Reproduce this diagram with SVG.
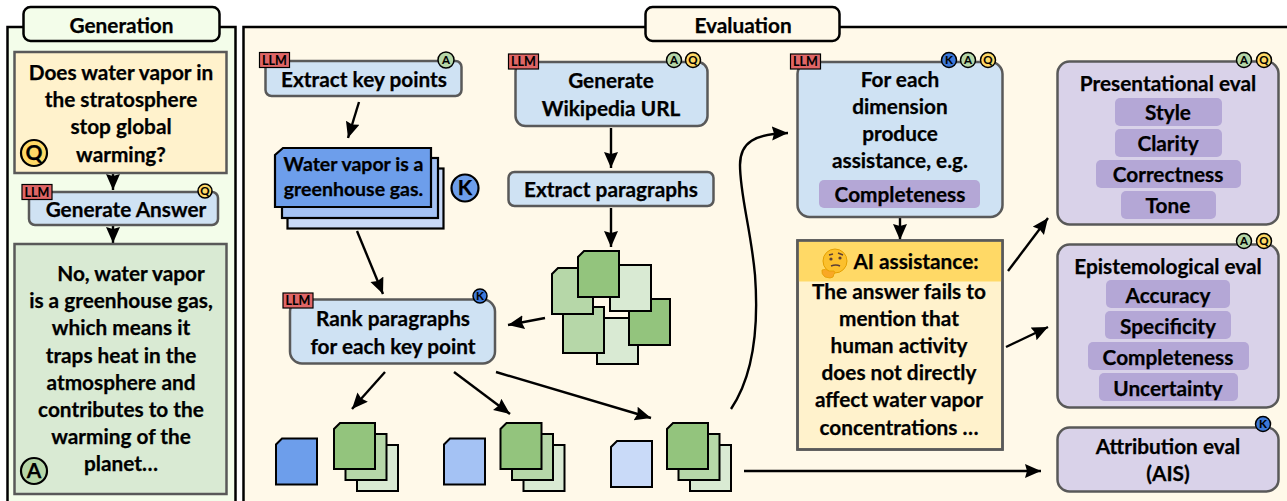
<svg xmlns="http://www.w3.org/2000/svg" width="1287" height="501" viewBox="0 0 1287 501">
<style>
text{font-family:Lato,"Liberation Sans",sans-serif;font-weight:700;font-size:20.8px;fill:#000;stroke:#000;stroke-width:.25;text-anchor:middle}
.panel{stroke:#000;stroke-width:2.5}
.gen{fill:#f3fdea}.ev{fill:#fff9e9}
.blue{fill:#cfe2f3;stroke:#595959;stroke-width:2.5}
.purple{fill:#d9d2e9;stroke:#595959;stroke-width:2.5}
.pill{fill:#b4a7d6}
.yellow{fill:#fff2cc;stroke:#595959;stroke-width:2.5}
.greenbox{fill:#d9ead3;stroke:#595959;stroke-width:2.5}
.tag{fill:#e06666;stroke:#000;stroke-width:1.2}
text.tagt{font-size:12.5px;stroke-width:.1}
.b{stroke:#000;stroke-width:1.5}
.bk{stroke:#000;stroke-width:2.2}
text.mini{font-size:11.5px;stroke-width:.1}
.cq{fill:#ffd966}.ca{fill:#b6d7a8}.ck{fill:#3c78d8}
.d{stroke:#000;stroke-width:2}
.g1{fill:#93c47d}.g2{fill:#b6d7a8}.g3{fill:#d9ead3}
.conn{fill:none;stroke:#000;stroke-width:2.4;marker-end:url(#ah)}
text.k{font-size:21px}
text.kp{font-size:19.5px}
</style>
<defs>
<marker id="ah" markerUnits="userSpaceOnUse" markerWidth="18" markerHeight="16" refX="16" refY="7" orient="auto"><path d="M0,0L16,7L0,14L2,7Z" fill="#000"/></marker>
<path id="doc" d="M6,0H41V46H0V6Z"/>
<path id="rdoc" d="M0,0H41V46H0Z"/>
<g id="stack"><use href="#rdoc" x="23" y="22" class="d g3"/><use href="#rdoc" x="11.500" y="11" class="d g2"/><use href="#doc" class="d g1"/></g>
</defs>
<rect width="1287" height="501" fill="#fff"/>

<g id="generation-panel">
<rect class="panel gen" x="7.500" y="27" width="228" height="490"/>
<rect class="panel gen" x="23.500" y="7" width="196" height="34" rx="7"/>
<text x="121.500" y="33">Generation</text>
</g>
<g id="evaluation-panel">
<rect class="panel ev" x="243.500" y="27" width="1060" height="490"/>
<rect class="panel ev" x="645.500" y="7" width="194" height="34" rx="7"/>
<text x="743" y="33">Evaluation</text>
</g>

<g id="connectors">
<path class="conn" d="M113,174V190"/>
<path class="conn" d="M113,226V243"/>
<path class="conn" d="M359,102L348,138"/>
<path class="conn" d="M357,231L383,294"/>
<path class="conn" d="M611,128V168"/>
<path class="conn" d="M611,208V247"/>
<path class="conn" d="M545,318L508,325"/>
<path class="conn" d="M385,372L352,409"/>
<path class="conn" d="M454,372L510,414"/>
<path class="conn" d="M496,372L651,418"/>
<path class="conn" d="M731,409C752,378 759,330 755,275C751,230 740,195 740,165C740,142 755,134 788,133"/>
<path class="conn" d="M900,218V240"/>
<path class="conn" d="M1008,271L1048,218"/>
<path class="conn" d="M1006,347L1048,327"/>
<path class="conn" d="M744,471H1041"/>
</g>

<g id="question">
<rect class="yellow" x="14.500" y="52" width="212" height="121"/>
<text x="121" y="80">Does water vapor in</text>
<text x="121" y="107">the stratosphere</text>
<text x="121" y="134">stop global</text>
<text x="121" y="162">warming?</text>
<circle class="cq bk" cx="34" cy="153" r="13"/><text x="34" y="160" class="k">Q</text>
</g>
<g id="generate-answer">
<rect class="blue" x="29" y="192" width="189" height="33" rx="6"/>
<rect class="tag" x="22" y="184.500" width="30" height="15"/><text x="37" y="196.500" class="tagt">LLM</text>
<circle class="cq b" cx="205" cy="191" r="7"/><text x="205" y="195" class="mini">Q</text>
<text x="126" y="217">Generate Answer</text>
</g>
<g id="answer">
<rect class="greenbox" x="14.500" y="244" width="212" height="250"/>
<text x="131" y="281">No, water vapor</text>
<text x="121" y="308">is a greenhouse gas,</text>
<text x="121" y="335">which means it</text>
<text x="121" y="363">traps heat in the</text>
<text x="121" y="390">atmosphere and</text>
<text x="121" y="417">contributes to the</text>
<text x="121" y="444">warming of the</text>
<text x="121" y="471">planet…</text>
<circle class="ca bk" cx="34" cy="471" r="13"/><text x="34" y="478" class="k">A</text>
</g>

<g id="extract-key-points">
<rect class="blue" x="265.500" y="61" width="196" height="35" rx="6"/>
<rect class="tag" x="259.500" y="52.500" width="30" height="15"/><text x="274.500" y="64.500" class="tagt">LLM</text>
<circle class="ca b" cx="446" cy="60" r="8"/><text x="446" y="64" class="mini">A</text>
<text x="364" y="87">Extract key points</text>
</g>
<g id="key-points">
<rect class="bk" x="287.500" y="168.500" width="156" height="60" fill="#c9daf8"/>
<rect class="bk" x="282" y="158" width="156" height="60" fill="#a4c2f4"/>
<path class="bk" d="M283,148H431V207H275V155Z" fill="#6d9eeb"/>
<text x="353.500" y="171" class="kp">Water vapor is a</text>
<text x="353.500" y="196" class="kp">greenhouse gas.</text>
<circle class="bk" cx="465" cy="188" r="13.500" fill="#6d9eeb"/><text x="465" y="195" class="k">K</text>
</g>
<g id="generate-url">
<rect class="blue" x="515.500" y="62" width="192" height="64" rx="10"/>
<rect class="tag" x="508.500" y="54" width="30" height="15"/><text x="523.500" y="66" class="tagt">LLM</text>
<circle class="ca b" cx="674" cy="60" r="7.500"/><text x="674" y="64" class="mini">A</text>
<circle class="cq b" cx="693" cy="60" r="7.500"/><text x="693" y="64" class="mini">Q</text>
<text x="611" y="88">Generate</text><text x="611" y="116">Wikipedia URL</text>
</g>
<g id="extract-paragraphs">
<rect class="blue" x="508.500" y="172" width="205" height="34" rx="6"/>
<text x="611" y="197">Extract paragraphs</text>
</g>
<g id="paragraphs">
<use href="#rdoc" x="597" y="318" class="d g3"/>
<use href="#rdoc" x="629" y="299" class="d g1"/>
<use href="#doc" x="563" y="307" class="d g2"/>
<use href="#rdoc" x="610" y="265" class="d g3"/>
<use href="#doc" x="552" y="268" class="d g2"/>
<use href="#doc" x="578" y="251" class="d g1"/>
</g>
<g id="rank">
<rect class="blue" x="290" y="299.500" width="205" height="64" rx="12"/>
<rect class="tag" x="283" y="293" width="30" height="15"/><text x="298" y="305" class="tagt">LLM</text>
<circle class="ck b" cx="480" cy="296" r="7"/><text x="480" y="300" class="mini">K</text>
<text x="393" y="326">Rank paragraphs</text><text x="393" y="354">for each key point</text>
</g>
<g id="set-1">
<use href="#doc" x="276" y="438.500" class="d" fill="#6d9eeb"/>
<use href="#stack" x="334" y="423"/>
</g>
<g id="set-2">
<use href="#doc" x="444" y="438.500" class="d" fill="#a4c2f4"/>
<use href="#stack" x="500.500" y="423"/>
</g>
<g id="set-3">
<use href="#doc" x="611" y="441" class="d" fill="#c9daf8"/>
<use href="#stack" x="667" y="423"/>
</g>
<g id="assistance-gen">
<rect class="blue" x="797.500" y="62" width="205" height="155" rx="12"/>
<rect class="tag" x="790.500" y="54" width="30" height="15"/><text x="805.500" y="66" class="tagt">LLM</text>
<circle class="ck b" cx="949" cy="60" r="7.500"/><text x="949" y="64" class="mini">K</text>
<circle class="ca b" cx="968" cy="60" r="7.500"/><text x="968" y="64" class="mini">A</text>
<circle class="cq b" cx="988" cy="60" r="7.500"/><text x="988" y="64" class="mini">Q</text>
<text x="900" y="87">For each</text><text x="900" y="114">dimension</text><text x="900" y="141">produce</text><text x="900" y="168">assistance, e.g.</text>
<rect class="pill" x="819" y="180" width="161" height="28" rx="5"/><text x="900" y="202">Completeness</text>
</g>
<g id="ai-assistance">
<rect class="yellow" x="797.500" y="240.500" width="205" height="209"/>
<rect x="798.500" y="241.500" width="203" height="40" fill="#ffd966"/>
<rect x="797.500" y="240.500" width="205" height="209" fill="none" stroke="#595959" stroke-width="2.500"/>
<circle cx="835" cy="261" r="12" fill="#fbc02d" stroke="#e5a000" stroke-width="1"/>
<path d="M829,255l4,-1M838,253l5,2" stroke="#5d4037" stroke-width="1.500" fill="none"/>
<circle cx="831" cy="259" r="1.600" fill="#5d4037"/><circle cx="840" cy="258" r="1.600" fill="#5d4037"/>
<path d="M831,266q5,-2 9,0" stroke="#5d4037" stroke-width="1.500" fill="none"/>
<path d="M822,270q4,-2 7,1l5,0q2,2 0,3q0,4 -4,4l-5,-1q-4,-3 -3,-7z" fill="#f9a825" stroke="#e5a000" stroke-width=".8"/>
<text x="916" y="269">AI assistance:</text>
<text x="899" y="299">The answer fails to</text>
<text x="899" y="326">mention that</text>
<text x="899" y="353">human activity</text>
<text x="899" y="380">does not directly</text>
<text x="899" y="407">affect water vapor</text>
<text x="899" y="435">concentrations …</text>
</g>
<g id="presentational">
<rect class="purple" x="1057.500" y="61.500" width="221" height="163" rx="12"/>
<circle class="ca b" cx="1244" cy="60" r="7.500"/><text x="1244" y="64" class="mini">A</text>
<circle class="cq b" cx="1264" cy="60" r="7.500"/><text x="1264" y="64" class="mini">Q</text>
<text x="1168" y="91">Presentational eval</text>
<rect class="pill" x="1115" y="98" width="107" height="28" rx="5"/><text x="1168" y="120">Style</text>
<rect class="pill" x="1115" y="129" width="107" height="28" rx="5"/><text x="1168" y="151">Clarity</text>
<rect class="pill" x="1096" y="160" width="145" height="28" rx="5"/><text x="1168" y="182">Correctness</text>
<rect class="pill" x="1121" y="191" width="95" height="28" rx="5"/><text x="1168" y="213">Tone</text>
</g>
<g id="epistemological">
<rect class="purple" x="1057.500" y="244.500" width="221" height="163" rx="12"/>
<circle class="ca b" cx="1244" cy="241" r="7.500"/><text x="1244" y="245" class="mini">A</text>
<circle class="cq b" cx="1264" cy="241" r="7.500"/><text x="1264" y="245" class="mini">Q</text>
<text x="1168" y="274">Epistemological eval</text>
<rect class="pill" x="1106" y="280" width="124" height="28" rx="5"/><text x="1168" y="303">Accuracy</text>
<rect class="pill" x="1105" y="311" width="126" height="28" rx="5"/><text x="1168" y="334">Specificity</text>
<rect class="pill" x="1088" y="342" width="161" height="28" rx="5"/><text x="1168" y="365">Completeness</text>
<rect class="pill" x="1099" y="373" width="139" height="28" rx="5"/><text x="1168" y="396">Uncertainty</text>
</g>
<g id="attribution">
<rect class="purple" x="1057.500" y="427.500" width="221" height="64" rx="12"/>
<circle class="ck b" cx="1263" cy="424" r="7.500"/><text x="1263" y="428" class="mini">K</text>
<text x="1168" y="454">Attribution eval</text><text x="1168" y="481">(AIS)</text>
</g>
</svg>
